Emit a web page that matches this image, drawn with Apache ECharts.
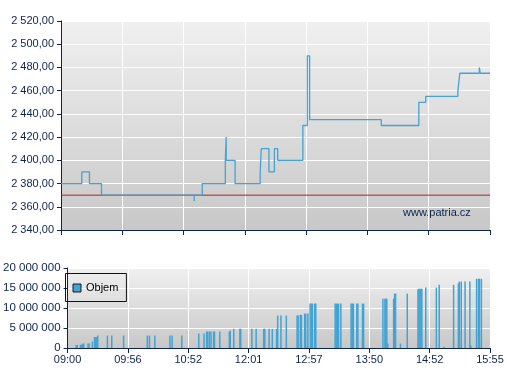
<!DOCTYPE html>
<html>
<head>
<meta charset="utf-8">
<script src="https://cdn.jsdelivr.net/npm/echarts@6/dist/echarts.min.js"></script>
<style>
  html, body { margin: 0; padding: 0; background: #fff; }
  #chart { width: 507px; height: 380px; }
</style>
</head>
<body>
<div id="chart"></div>
<script>
// x axis labels (ticks are equally spaced on the chart)
const tickLabels = ['09:00', '09:56', '10:52', '12:01', '12:57', '13:50', '14:52', '15:55']

// trades: time + price
const priceTimes = ['09:00', '09:19', '09:26', '09:37', '11:04', '11:04', '11:13', '11:39', '11:40', '11:40',
  '11:50', '12:15', '12:16', '12:23', '12:28', '12:31', '12:54', '12:58', '12:58', '13:00',
  '14:04', '14:42', '14:49', '15:22', '15:24', '15:44', '15:45', '15:55']
const priceValues = [2380, 2390, 2380, 2370, 2365, 2370, 2380, 2400, 2420, 2400,
  2380, 2390, 2410, 2390, 2410, 2400, 2430, 2485, 2490, 2435,
  2430, 2450, 2455, 2460, 2475, 2480, 2475, 2475]
const prevClose = 2370

// volume (Objem)
const volumeTimes = ['09:08', '09:09', '09:12', '09:13', '09:14', '09:15', '09:19', '09:20', '09:23', '09:25',
  '09:26', '09:27', '09:28', '09:37', '09:41', '09:52', '10:14', '10:16', '10:21', '10:35',
  '10:37', '10:46', '11:04', '11:10', '11:13', '11:14', '11:16', '11:18', '11:21', '11:22',
  '11:28', '11:39', '11:40', '11:44', '11:51', '11:52', '12:04', '12:08', '12:15', '12:16',
  '12:20', '12:23', '12:27', '12:28', '12:31', '12:36', '12:46', '12:47', '12:49', '12:50',
  '12:53', '12:54', '12:55', '12:56', '12:58', '12:59', '13:00', '13:02', '13:03', '13:20',
  '13:21', '13:22', '13:23', '13:25', '13:34', '13:35', '13:36', '13:39', '13:40', '13:44',
  '13:45', '14:04', '14:06', '14:07', '14:08', '14:09', '14:15', '14:16', '14:17', '14:22',
  '14:29', '14:40', '14:41', '14:42', '14:43', '14:44', '14:48', '14:59', '15:02', '15:07',
  '15:17', '15:22', '15:23', '15:25', '15:29', '15:34', '15:35', '15:41', '15:43', '15:44',
  '15:46']
const volumeValues = [750000, 750000, 800000, 800000, 1100000, 1100000, 1100000, 1100000, 1600000, 2750000,
  2750000, 2750000, 3100000, 3100000, 3100000, 3100000, 3100000, 3100000, 3100000, 3100000,
  3100000, 3100000, 3600000, 3600000, 4100000, 4100000, 4100000, 4100000, 4100000, 4100000,
  4100000, 4100000, 4400000, 4800000, 4800000, 4800000, 4800000, 4800000, 4800000, 4800000,
  4800000, 4800000, 4800000, 8100000, 8100000, 8100000, 8100000, 8100000, 8300000, 8300000,
  8600000, 8600000, 300000, 8600000, 11100000, 11100000, 11100000, 11100000, 11100000, 11100000,
  11100000, 11100000, 11100000, 11100000, 11100000, 11100000, 11100000, 11100000, 11100000, 11100000,
  11100000, 12300000, 12300000, 12300000, 12300000, 1100000, 12300000, 13600000, 13600000, 1100000,
  13600000, 14600000, 14800000, 14800000, 14800000, 14800000, 15100000, 15100000, 15800000, 300000,
  15800000, 16100000, 16600000, 16600000, 16600000, 16600000, 600000, 17300000, 17300000, 17300000,
  17300000]

const navy = '#0d2350'
const blue = '#43a3d3'
const font = '"Liberation Sans", Arial, sans-serif'

const toMin = s => {
  const p = s.split(':')
  return +p[0] * 60 + +p[1]
}
const tickMin = tickLabels.map(toMin)
// time -> position between equally spaced ticks
const toPos = s => {
  const m = toMin(s)
  for (let i = 0; i < tickMin.length - 1; i++) {
    if (m <= tickMin[i + 1]) return i + (m - tickMin[i]) / (tickMin[i + 1] - tickMin[i])
  }
  return tickMin.length - 1
}
const fmtNum = (v, dec) => {
  const parts = v.toFixed(dec).split('.')
  const int = parts[0].replace(/\B(?=(\d{3})+(?!\d))/g, ' ')
  return parts[1] ? int + ',' + parts[1] : int
}
const bg = () => new echarts.graphic.LinearGradient(0, 0, 0, 1, [
  { offset: 0, color: '#f0f0f0' },
  { offset: 1, color: '#c8c8c8' }
])

const xAxisBase = {
  type: 'value',
  min: 0,
  max: tickLabels.length - 1,
  interval: 1,
  axisLine: { lineStyle: { color: navy, width: 1 } },
  axisTick: { length: 5, lineStyle: { color: navy } },
  splitLine: { lineStyle: { color: '#ffffff', width: 1 } }
}
const yAxisBase = {
  type: 'value',
  axisLine: { show: true, lineStyle: { color: navy, width: 1 } },
  axisTick: { show: true, length: 4, lineStyle: { color: navy } },
  splitLine: { lineStyle: { color: '#ffffff', width: 1 } }
}

const chart = echarts.init(document.getElementById('chart'))
chart.setOption({
  animation: false,
  textStyle: { fontFamily: font },
  grid: [
    { left: 61, top: 21, width: 429, height: 209, show: true, backgroundColor: bg(), borderWidth: 0 },
    { left: 61, top: 268, width: 429, height: 80, show: true, backgroundColor: bg(), borderWidth: 0 }
  ],
  xAxis: [
    Object.assign({}, xAxisBase, { gridIndex: 0, axisLabel: { show: false } }),
    Object.assign({}, xAxisBase, {
      gridIndex: 1,
      axisLabel: {
        color: navy, fontSize: 11, fontFamily: font, margin: 6,
        formatter: v => tickLabels[Math.round(v)]
      }
    })
  ],
  yAxis: [
    Object.assign({}, yAxisBase, {
      gridIndex: 0, min: 2340, max: 2520, interval: 20,
      axisLabel: { color: navy, fontSize: 11, fontFamily: font, margin: 7, formatter: v => fmtNum(v, 2) }
    }),
    Object.assign({}, yAxisBase, {
      gridIndex: 1, min: 0, max: 20000000, interval: 5000000,
      axisLabel: { color: navy, fontSize: 11.5, fontFamily: font, margin: 7, formatter: v => fmtNum(v, 0) }
    })
  ],
  legend: {
    data: ['Objem'],
    left: 65.5,
    top: 273.5,
    padding: [9, 8, 8, 7],
    borderColor: '#111111',
    borderWidth: 1,
    borderRadius: 0,
    backgroundColor: 'transparent',
    icon: 'rect',
    itemWidth: 8,
    itemHeight: 8,
    itemStyle: { borderColor: '#1a1a1a', borderWidth: 1 },
    textStyle: { color: '#000000', fontSize: 11, fontFamily: font }
  },
  graphic: [{
    type: 'text',
    left: 403,
    top: 207,
    style: { text: 'www.patria.cz', fill: navy, font: '11px ' + font }
  }],
  series: [
    {
      name: 'prevClose',
      type: 'line',
      xAxisIndex: 0,
      yAxisIndex: 0,
      symbol: 'none',
      silent: true,
      lineStyle: { color: '#b22222', width: 1 },
      data: [[0, prevClose], [tickLabels.length - 1, prevClose]]
    },
    {
      name: 'Cena',
      type: 'line',
      xAxisIndex: 0,
      yAxisIndex: 0,
      step: 'end',
      symbol: 'none',
      lineStyle: { color: blue, width: 1.3 },
      data: priceTimes.map((t, i) => [toPos(t), priceValues[i]])
    },
    {
      name: 'Objem',
      type: 'bar',
      xAxisIndex: 1,
      yAxisIndex: 1,
      barWidth: 1.5,
      itemStyle: { color: blue },
      data: volumeTimes.map((t, i) => [toPos(t), volumeValues[i]])
    }
  ]
})
</script>
</body>
</html>
